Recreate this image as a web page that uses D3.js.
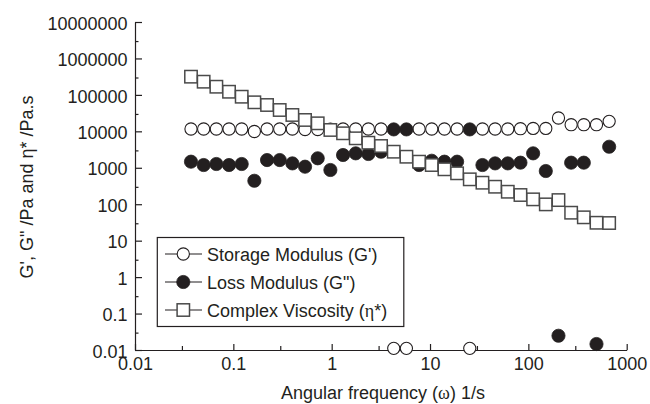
<!DOCTYPE html>
<html>
<head>
<meta charset="utf-8">
<script src="https://cdn.jsdelivr.net/npm/d3@7/dist/d3.min.js"></script>
<style>
  html, body { margin: 0; padding: 0; background: #fff; }
  svg { display: block; font-family: "Liberation Sans", Arial, sans-serif; }
  .serif { font-family: "Liberation Serif", "Times New Roman", serif; }
</style>
</head>
<body>
<svg id="chart" width="650" height="404"></svg>
<script>
// Angular frequency sweep (1/s)
const omega = [0.0371, 0.0499, 0.0672, 0.0904, 0.1216, 0.1636, 0.2202, 0.2961, 0.3984, 0.536,
  0.7211, 0.9701, 1.305, 1.756, 2.362, 3.178, 4.276, 5.753, 7.74, 10.41,
  14.01, 18.85, 25.36, 34.12, 45.91, 61.77, 83.1, 111.8, 150.4, 202.4,
  272.3, 366.3, 492.9, 663.1];

// Storage modulus G' (Pa)
const storageModulus = [11600, 11600, 11600, 11600, 11600, 9900, 11600, 11600, 11600, 11200,
  11200, 11400, 11600, 11600, 11600, 11600, 0.0111, 0.0111, 11600, 11600,
  11600, 11600, 0.0111, 11600, 11600, 11600, 11800, 12000, 12000, 23200,
  15200, 15200, 15200, 18800];

// Loss modulus G" (Pa)
const lossModulus = [1470, 1190, 1270, 1190, 1270, 440, 1630, 1630, 1320, 1070,
  1820, 870, 2240, 2490, 2390, 2760, 11300, 11300, 1190, 1560,
  1470, 1470, 11300, 1190, 1320, 1320, 1380, 2490, 815, 0.0246,
  1380, 1380, 0.0146, 3780];

// Complex viscosity η* (Pa.s)
const complexViscosity = [316000, 230000, 167500, 122000, 89100, 62600, 52800, 38500, 28100, 20500,
  16600, 10900, 8830, 6430, 4870, 3960, 2760, 2010, 1470, 1190,
  908, 705, 482, 389, 302, 220, 179, 136, 99, 130,
  58.5, 43.7, 31, 30.5];

const xTicks = [0.01, 0.1, 1, 10, 100, 1000];
const xTickLabels = ["0.01", "0.1", "1", "10", "100", "1000"];
const xMinorTicks = [0.03, 0.3, 3, 30, 300];
const yTicks = [0.01, 0.1, 1, 10, 100, 1000, 10000, 100000, 1000000, 10000000];
const yTickLabels = ["0.01", "0.1", "1", "10", "100", "1000", "10000", "100000", "1000000", "10000000"];
const yMinorTicks = [0.03, 0.3, 3, 30, 300, 3000, 30000, 300000, 3000000];

const seriesNames = ["Storage Modulus (G')", "Loss Modulus (G\")", "Complex Viscosity ("];

const ink = "#231f20";
const svg = d3.select("#chart");

const x = d3.scaleLog().domain([0.01, 1000]).range([135, 626.7]);
const y = d3.scaleLog().domain([0.01, 10000000]).range([350, 22]);

// ---- axes ----
const xAxisG = svg.append("g")
  .attr("transform", `translate(0,${y(0.01)})`)
  .call(d3.axisBottom(x).tickValues(xTicks)
    .tickFormat((d, i) => xTickLabels[i])
    .tickSizeInner(-6).tickSizeOuter(0).tickPadding(7));
svg.append("g")
  .attr("transform", `translate(0,${y(0.01)})`)
  .call(d3.axisBottom(x).tickValues(xMinorTicks).tickFormat("")
    .tickSizeInner(-4).tickSizeOuter(0))
  .select(".domain").remove();

const yAxisG = svg.append("g")
  .attr("transform", `translate(${x(0.01)},0)`)
  .call(d3.axisLeft(y).tickValues(yTicks)
    .tickFormat((d, i) => yTickLabels[i])
    .tickSizeInner(-7).tickSizeOuter(0).tickPadding(7.5));
svg.append("g")
  .attr("transform", `translate(${x(0.01)},0)`)
  .call(d3.axisLeft(y).tickValues(yMinorTicks).tickFormat("")
    .tickSizeInner(-3.5).tickSizeOuter(0))
  .select(".domain").remove();

svg.selectAll(".domain, .tick line").attr("stroke", ink).attr("stroke-width", 1.2);
svg.selectAll(".tick text").attr("fill", ink).style("font-size", "18px")
  .style("font-family", "'Liberation Sans', Arial, sans-serif");
yAxisG.selectAll(".tick text").attr("dy", "0.4em");

// ---- axis titles ----
const xTitle = svg.append("text")
  .attr("x", 383).attr("y", 399)
  .attr("text-anchor", "middle")
  .attr("fill", ink).style("font-size", "18px");
xTitle.append("tspan").text("Angular frequency (");
xTitle.append("tspan").attr("class", "serif").text("ω");
xTitle.append("tspan").text(") 1/s");

svg.append("text")
  .attr("transform", "translate(33,187) rotate(-90)")
  .attr("text-anchor", "middle")
  .attr("fill", ink).style("font-size", "18px")
  .text("G', G\" /Pa and η* /Pa.s");

// ---- markers ----
const plot = svg.append("g");

plot.selectAll("circle.gp").data(omega)
  .join("circle").attr("class", "gp")
  .attr("cx", d => x(d))
  .attr("cy", (d, i) => y(storageModulus[i]))
  .attr("r", 6.1)
  .attr("fill", "#fff").attr("stroke", ink).attr("stroke-width", 1.1);

plot.selectAll("circle.gpp").data(omega)
  .join("circle").attr("class", "gpp")
  .attr("cx", d => x(d))
  .attr("cy", (d, i) => y(lossModulus[i]))
  .attr("r", 6.6)
  .attr("fill", ink).attr("stroke", ink).attr("stroke-width", 0.8);

const sq = 12.4;
plot.selectAll("rect.eta").data(omega)
  .join("rect").attr("class", "eta")
  .attr("x", d => x(d) - sq / 2)
  .attr("y", (d, i) => y(complexViscosity[i]) - sq / 2)
  .attr("width", sq).attr("height", sq)
  .attr("fill", "#fff").attr("stroke", "#4a4a4a").attr("stroke-width", 1.5);

// ---- legend ----
const legend = svg.append("g");
legend.append("rect")
  .attr("x", 157.3).attr("y", 237.5).attr("width", 246.5).attr("height", 89)
  .attr("fill", "#fff").attr("stroke", ink).attr("stroke-width", 1.2);

const rowY = [254, 282, 310];
rowY.forEach((ry, i) => {
  legend.append("line")
    .attr("x1", 165).attr("x2", 202).attr("y1", ry).attr("y2", ry)
    .attr("stroke", ink).attr("stroke-width", 1.2);
  if (i === 0) {
    legend.append("circle").attr("cx", 183.3).attr("cy", ry).attr("r", 6.1)
      .attr("fill", "#fff").attr("stroke", ink).attr("stroke-width", 1.1);
  } else if (i === 1) {
    legend.append("circle").attr("cx", 183.3).attr("cy", ry).attr("r", 6.6)
      .attr("fill", ink).attr("stroke", ink).attr("stroke-width", 0.8);
  } else {
    legend.append("rect").attr("x", 183.3 - sq / 2).attr("y", ry - sq / 2)
      .attr("width", sq).attr("height", sq)
      .attr("fill", "#fff").attr("stroke", "#4a4a4a").attr("stroke-width", 1.5);
  }
  const t = legend.append("text")
    .attr("x", 207).attr("y", ry + 6.5)
    .attr("fill", ink).style("font-size", "18px");
  t.append("tspan").text(seriesNames[i]);
  if (i === 2) {
    t.append("tspan").attr("class", "serif").text("η");
    t.append("tspan").text("*)");
  }
});
</script>
</body>
</html>
